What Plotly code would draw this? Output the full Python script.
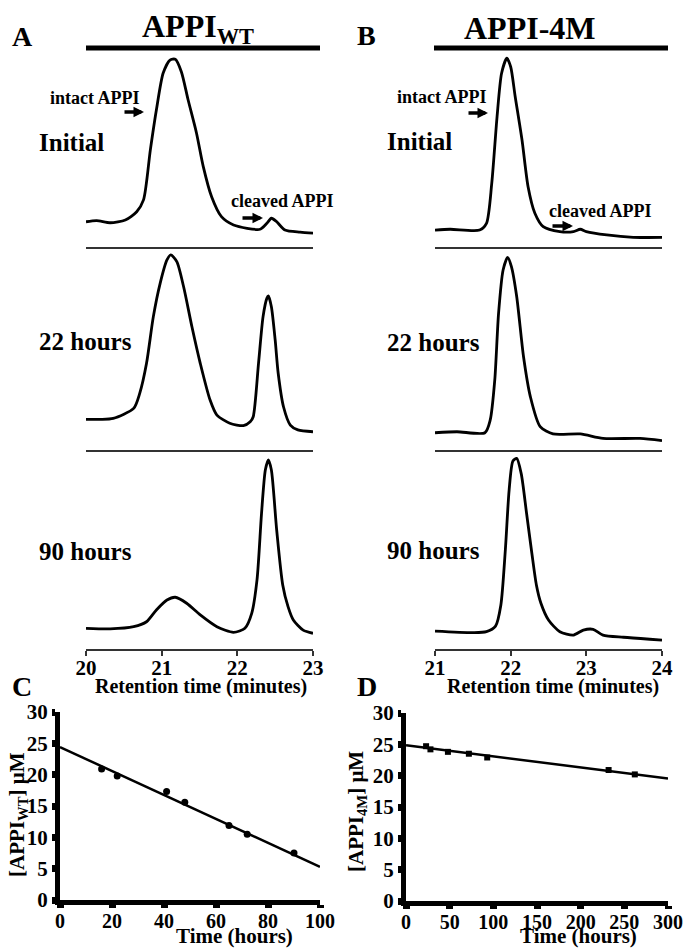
import plotly.graph_objects as go

# ---------------- data ----------------
# Panel A: APPI_WT chromatograms (retention time, min ; relative absorbance, % full scale)
a_init_t = [20.00, 20.14, 20.32, 20.52, 20.67, 20.76, 20.85, 20.93, 21.02, 21.11, 21.18, 21.26, 21.35,
            21.46, 21.55, 21.66, 21.79, 21.95, 22.30, 22.39, 22.45, 22.52, 22.63, 22.83, 23.00]
a_init_v = [12.8, 13.4, 12.3, 13.7, 17.9, 23.9, 49.2, 69.5, 88.3, 94.9, 95.3, 89.0, 74.6,
            57.9, 40.8, 25.5, 15.4, 11.2, 9.0, 12.0, 14.6, 12.8, 8.6, 7.5, 7.0]

a_22_t = [20.00, 20.19, 20.36, 20.63, 20.71, 20.80, 20.89, 20.98, 21.07, 21.12, 21.20, 21.29, 21.40,
          21.51, 21.64, 21.73, 21.90, 22.08, 22.17, 22.21, 22.28, 22.34, 22.39, 22.41, 22.45, 22.50,
          22.54, 22.61, 22.70, 22.80, 23.00]
a_22_v = [15.1, 15.1, 15.6, 20.5, 27.9, 42.7, 65.7, 82.1, 93.6, 96.1, 92.8, 80.4, 60.7,
          42.7, 24.6, 17.2, 13.2, 12.0, 13.9, 16.4, 42.7, 65.7, 74.7, 75.9, 70.6, 54.2,
          37.8, 21.3, 12.3, 9.9, 9.0]

a_90_t = [20.00, 20.32, 20.63, 20.80, 20.93, 21.07, 21.18, 21.33, 21.51, 21.73, 21.95, 22.10, 22.19,
          22.26, 22.32, 22.37, 22.41, 22.45, 22.52, 22.60, 22.67, 22.74, 22.87, 23.00]
a_90_v = [10.4, 10.1, 11.2, 13.7, 19.6, 24.6, 26.0, 23.0, 17.1, 11.2, 8.4, 10.4, 17.9,
          34.7, 68.3, 89.9, 95.0, 89.9, 59.8, 32.2, 21.3, 14.6, 9.5, 7.9]

# Panel B: APPI-4M chromatograms
b_init_t = [21.00, 21.20, 21.59, 21.68, 21.75, 21.82, 21.88, 21.95, 22.00, 22.06, 22.15, 22.23, 22.32,
            22.43, 22.65, 22.83, 22.92, 23.00, 23.27, 23.62, 24.00]
b_init_v = [8.6, 9.0, 8.6, 12.0, 32.3, 66.1, 88.2, 95.8, 91.5, 76.3, 54.3, 30.6, 17.1,
            10.3, 7.8, 7.8, 9.0, 7.8, 6.1, 4.9, 4.9]

b_22_t = [21.00, 21.29, 21.66, 21.73, 21.79, 21.84, 21.90, 21.96, 22.01, 22.08, 22.17, 22.26, 22.39,
          22.56, 22.92, 23.22, 23.71, 24.00]
b_22_v = [8.5, 9.0, 8.5, 14.8, 34.5, 67.3, 88.7, 94.9, 90.3, 75.5, 45.9, 26.3, 11.5,
          7.9, 7.9, 5.7, 5.7, 4.6]

b_90_t = [21.00, 21.51, 21.68, 21.80, 21.87, 21.93, 21.98, 22.03, 22.08, 22.14, 22.21, 22.28,
          22.34, 22.40, 22.50, 22.65, 22.83, 22.96, 23.09, 23.22, 23.49, 23.84, 24.00]
b_90_v = [9.0, 8.2, 8.7, 11.5, 22.0, 50.0, 80.0, 94.5, 95.8, 88.0, 68.2, 48.1,
          32.2, 23.0, 14.6, 8.7, 7.0, 9.5, 9.9, 7.0, 5.9, 4.9, 4.5]

row_labels = ["Initial", "22 hours", "90 hours"]
ticks_a = [20, 21, 22, 23]
ticks_b = [21, 22, 23, 24]

# Panel C: [APPI_WT] vs time
time_c = [16, 22, 41, 48, 65, 72, 90]
conc_c = [20.9, 19.8, 17.3, 15.6, 11.9, 10.5, 7.5]
fit_c_t = [0, 100]
fit_c_y = [24.4, 5.3]

# Panel D: [APPI_4M] vs time
time_d = [23, 28, 48, 72, 93, 232, 262]
conc_d = [24.7, 24.2, 23.8, 23.5, 22.9, 20.9, 20.2]
fit_d_t = [0, 300]
fit_d_y = [24.85, 19.55]

ticks_c_x = [0, 20, 40, 60, 80, 100]
ticks_d_x = [0, 50, 100, 150, 200, 250, 300]
ticks_y = [0, 5, 10, 15, 20, 25, 30]

# ---------------- layout helpers ----------------
W, H = 687, 950
def X(px):
    return px / W
def Y(py):
    return 1 - py / H

FONT = "Liberation Serif, Times New Roman, serif"
BLACK = "#000000"

def bold_labels(vals):
    return [f"<b>{v}</b>" for v in vals]

fig = go.Figure()

chrom = [
    (a_init_t, a_init_v), (a_22_t, a_22_v), (a_90_t, a_90_v),
    (b_init_t, b_init_v), (b_22_t, b_22_v), (b_90_t, b_90_v),
]
col_dom = [[X(86), X(313)], [X(435), X(662)]]
col_rng = [[20, 23], [21, 24]]
col_ticks = [ticks_a, ticks_b]
row_dom = [[Y(247), Y(50)], [Y(450), Y(247)], [Y(649), Y(450)]]

layout = {}
for i, (t, v) in enumerate(chrom):
    n = i + 1
    col, row = divmod(i, 3)
    xa = "x" if n == 1 else f"x{n}"
    ya = "y" if n == 1 else f"y{n}"
    fig.add_trace(go.Scatter(x=t, y=v, xaxis=xa, yaxis=ya, mode="lines",
                             line=dict(color=BLACK, width=2.8, shape="spline", smoothing=0.7),
                             showlegend=False, hoverinfo="skip"))
    xkey = "xaxis" if n == 1 else f"xaxis{n}"
    ykey = "yaxis" if n == 1 else f"yaxis{n}"
    bottom = row == 2
    layout[xkey] = dict(domain=col_dom[col], range=col_rng[col], anchor=ya,
                        showline=True, linecolor="#333333", linewidth=1.6,
                        showgrid=False, zeroline=False, automargin=False,
                        ticks="outside" if bottom else "", ticklen=5, tickwidth=1.5,
                        tickcolor="#333333",
                        tickvals=col_ticks[col], ticktext=bold_labels(col_ticks[col]),
                        showticklabels=bottom, ticklabelstandoff=-6,
                        tickfont=dict(family=FONT, size=21, color=BLACK),
                        fixedrange=True)
    layout[ykey] = dict(domain=row_dom[row], range=[0, 100], anchor=xa, visible=False,
                        automargin=False, fixedrange=True)

# Panel C & D scatter + fit
fig.add_trace(go.Scatter(x=fit_c_t, y=fit_c_y, xaxis="x7", yaxis="y7", mode="lines",
                         line=dict(color=BLACK, width=2.5), showlegend=False, hoverinfo="skip"))
fig.add_trace(go.Scatter(x=time_c, y=conc_c, xaxis="x7", yaxis="y7", mode="markers",
                         marker=dict(color=BLACK, size=7, symbol="circle"), showlegend=False))
fig.add_trace(go.Scatter(x=fit_d_t, y=fit_d_y, xaxis="x8", yaxis="y8", mode="lines",
                         line=dict(color=BLACK, width=2.5), showlegend=False, hoverinfo="skip"))
fig.add_trace(go.Scatter(x=time_d, y=conc_d, xaxis="x8", yaxis="y8", mode="markers",
                         marker=dict(color=BLACK, size=6, symbol="square"), showlegend=False))

def kin_x(dom, rng, vals, anchor):
    return dict(domain=dom, range=rng, anchor=anchor, tickvals=vals, ticktext=bold_labels(vals),
                showline=True, linecolor=BLACK, linewidth=5, ticks="outside",
                ticklen=3, tickwidth=7, tickcolor=BLACK, showgrid=False, zeroline=False,
                automargin=False, tickfont=dict(family=FONT, size=20, color=BLACK),
                ticklabelstandoff=-4, fixedrange=True)
def kin_y(dom, anchor):
    return dict(domain=dom, range=[0, 30], anchor=anchor, tickvals=ticks_y,
                ticktext=bold_labels(ticks_y),
                showline=True, linecolor=BLACK, linewidth=5, ticks="outside",
                ticklen=3, tickwidth=7, tickcolor=BLACK, showgrid=False, zeroline=False,
                automargin=False, tickfont=dict(family=FONT, size=21, color=BLACK),
                fixedrange=True)

layout["xaxis7"] = kin_x([X(60), X(320)], [0, 100], ticks_c_x, "y7")
layout["yaxis7"] = kin_y([Y(900), Y(712)], "x7")
layout["xaxis8"] = kin_x([X(406), X(668)], [0, 300], ticks_d_x, "y8")
layout["yaxis8"] = kin_y([Y(901), Y(713)], "x8")

# ---------------- text annotations ----------------
ann = []
def text(px, py, s, size, xanchor="center", angle=0, yanchor="middle"):
    ann.append(dict(x=X(px), y=Y(py), xref="paper", yref="paper", text=f"<b>{s}</b>",
                    showarrow=False, xanchor=xanchor, yanchor=yanchor, textangle=angle,
                    font=dict(family=FONT, size=size, color=BLACK)))
def arrow(px0, px1, py):
    ann.append(dict(x=X(px1), y=Y(py), xref="paper", yref="paper", ax=px0 - px1, ay=0,
                    text="", showarrow=True, arrowhead=2, arrowsize=0.6, arrowwidth=3.5,
                    arrowcolor=BLACK))

text(22, 36, "A", 28)
text(367, 35, "B", 28)
text(22, 686, "C", 28)
text(367, 686, "D", 28)
text(198, 28, "APPI<sub>WT</sub>", 32)
text(530, 28, "APPI-4M", 32)

for lbl, py in zip(row_labels, [142, 341, 551]):
    text(37, py, lbl, 25, xanchor="left")
for lbl, py in zip(row_labels, [141, 342, 550]):
    text(385, py, lbl, 25, xanchor="left")

text(95, 98, "intact APPI", 18)
arrow(123, 144, 112)
text(442, 97, "intact APPI", 18)
arrow(467, 488, 113)
text(282, 201, "cleaved APPI", 18)
arrow(241, 263, 218)
text(600, 211, "cleaved APPI", 18)
arrow(551, 573, 226)

text(201, 686, "Retention time (minutes)", 20)
text(553, 686, "Retention time (minutes)", 20)
text(234, 950, "Time (hours)", 21, yanchor="bottom")
text(578, 950, "Time (hours)", 21, yanchor="bottom")
text(18, 815, "[APPI<sub>WT</sub>] μM", 21, angle=-90)
text(357, 812, "[APPI<sub>4M</sub>] μM", 21, angle=-90)

shapes = [
    dict(type="line", xref="paper", yref="paper", x0=X(86), x1=X(320), y0=Y(48), y1=Y(48),
         line=dict(color=BLACK, width=5)),
    dict(type="line", xref="paper", yref="paper", x0=X(434), x1=X(668), y0=Y(48), y1=Y(48),
         line=dict(color=BLACK, width=5)),
]

fig.update_layout(template="none", width=W, height=H, autosize=False,
                  margin=dict(l=0, r=0, t=0, b=0, pad=0),
                  paper_bgcolor="white", plot_bgcolor="white",
                  font=dict(family=FONT, color=BLACK),
                  showlegend=False, annotations=ann, shapes=shapes, **layout)

fig.write_html("out.html", config={"displayModeBar": False})
